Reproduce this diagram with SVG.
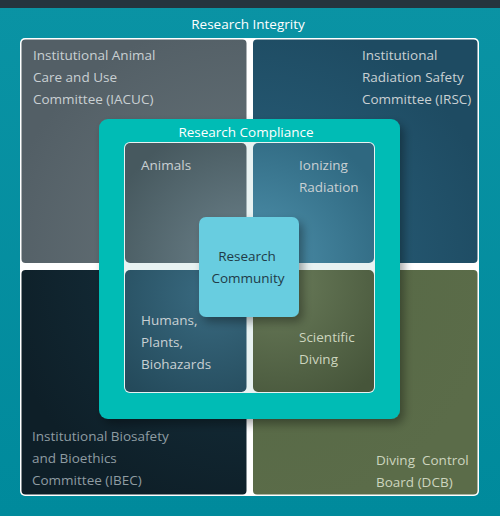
<svg xmlns="http://www.w3.org/2000/svg" width="500" height="516" viewBox="0 0 500 516">
<defs>
<style>
.t{font-family:"Open Sans","Liberation Sans",sans-serif;font-size:13.5px}
.w{fill:#ffffff}
.g{fill:#c9d0d3}
.gb{fill:#8e9ca2}
.gd{fill:#cdd5bf}
.dk{fill:#213b47}
</style>
<linearGradient id="bg" x1="0" y1="0" x2="0" y2="1"><stop offset="0" stop-color="#0a93a4"/><stop offset="1" stop-color="#008a9c"/></linearGradient>
<radialGradient id="qtl" cx="1" cy="1" r="1.1"><stop offset="0" stop-color="#6b787d"/><stop offset="1" stop-color="#535f66"/></radialGradient>
<radialGradient id="qtr" cx="0" cy="1" r="1.1"><stop offset="0" stop-color="#2b6480"/><stop offset="1" stop-color="#1e4b62"/></radialGradient>
<radialGradient id="qbl" cx="1" cy="0" r="1.1"><stop offset="0" stop-color="#173442"/><stop offset="1" stop-color="#0e1f28"/></radialGradient>
<radialGradient id="qbr" cx="0" cy="0" r="1.1"><stop offset="0" stop-color="#556845"/><stop offset="1" stop-color="#5b6c49"/></radialGradient>
<radialGradient id="itl" cx="1" cy="1" r="1.2"><stop offset="0" stop-color="#6d838c"/><stop offset="1" stop-color="#47595f"/></radialGradient>
<radialGradient id="itr" cx="0" cy="1" r="1.2"><stop offset="0" stop-color="#4f92ad"/><stop offset="1" stop-color="#2f6880"/></radialGradient>
<radialGradient id="ibl" cx="0.7" cy="0.2" r="1"><stop offset="0" stop-color="#396a80"/><stop offset="1" stop-color="#244a5b"/></radialGradient>
<radialGradient id="ibr" cx="0.2" cy="0.1" r="1.1"><stop offset="0" stop-color="#6a7c5a"/><stop offset="1" stop-color="#46553a"/></radialGradient>
<filter id="sh" x="-20%" y="-20%" width="140%" height="140%"><feDropShadow dx="4" dy="5" stdDeviation="5" flood-color="#000" flood-opacity="0.35"/></filter>
</defs>
<rect x="0" y="0" width="500" height="516" fill="url(#bg)"/>
<rect x="0" y="0" width="500" height="8" fill="#25343e"/>
<text class="t w" x="248" y="29" text-anchor="middle">Research Integrity</text>

<g id="integrity">
<rect x="20" y="38" width="459" height="458" rx="5" fill="#ffffff"/>
<rect x="21.5" y="39.5" width="225" height="223.5" rx="4" fill="url(#qtl)"/>
<rect x="253" y="39.5" width="224.5" height="223.5" rx="4" fill="url(#qtr)"/>
<rect x="21.5" y="270" width="225" height="224.5" rx="4" fill="url(#qbl)"/>
<rect x="253" y="270" width="224.5" height="224.5" rx="4" fill="url(#qbr)"/>
</g>

<g id="iacuc">
<text class="t g" x="33" y="60">Institutional Animal</text>
<text class="t g" x="33" y="82">Care and Use</text>
<text class="t g" x="33" y="104">Committee (IACUC)</text>
</g>
<g id="irsc">
<text class="t g" x="362" y="60">Institutional</text>
<text class="t g" x="362" y="82">Radiation Safety</text>
<text class="t g" x="362" y="104">Committee (IRSC)</text>
</g>
<g id="ibec">
<text class="t gb" x="32" y="441">Institutional Biosafety</text>
<text class="t gb" x="32" y="463">and Bioethics</text>
<text class="t gb" x="32" y="485">Committee (IBEC)</text>
</g>
<g id="dcb">
<text class="t gd" x="376" y="465" xml:space="preserve">Diving  Control</text>
<text class="t gd" x="376" y="487">Board (DCB)</text>
</g>

<g id="compliance">
<rect x="99" y="119" width="301" height="300" rx="9" fill="#00bcb5" filter="url(#sh)"/>
<text class="t w" x="246" y="137" text-anchor="middle">Research Compliance</text>
<rect x="124" y="142" width="251" height="251" rx="6" fill="#e8f2f2"/>
<rect x="125" y="143" width="121.5" height="120" rx="5" fill="url(#itl)"/>
<rect x="253" y="143" width="121" height="120" rx="5" fill="url(#itr)"/>
<rect x="125" y="270" width="121.5" height="122" rx="5" fill="url(#ibl)"/>
<rect x="253" y="270" width="121" height="122" rx="5" fill="url(#ibr)"/>
</g>

<g id="animals"><text class="t g" x="141" y="170">Animals</text></g>
<g id="ionizing">
<text class="t g" x="299" y="170">Ionizing</text>
<text class="t g" x="299" y="192">Radiation</text>
</g>
<g id="humans">
<text class="t g" x="141" y="325">Humans,</text>
<text class="t g" x="141" y="347">Plants,</text>
<text class="t g" x="141" y="369">Biohazards</text>
</g>
<g id="diving">
<text class="t gd" x="299" y="342">Scientific</text>
<text class="t gd" x="299" y="364">Diving</text>
</g>

<g id="community">
<rect x="199" y="217" width="100" height="100" rx="7" fill="#67cde0" filter="url(#sh)"/>
<text class="t dk" x="247" y="261" text-anchor="middle">Research</text>
<text class="t dk" x="248" y="283" text-anchor="middle">Community</text>
</g>
</svg>
